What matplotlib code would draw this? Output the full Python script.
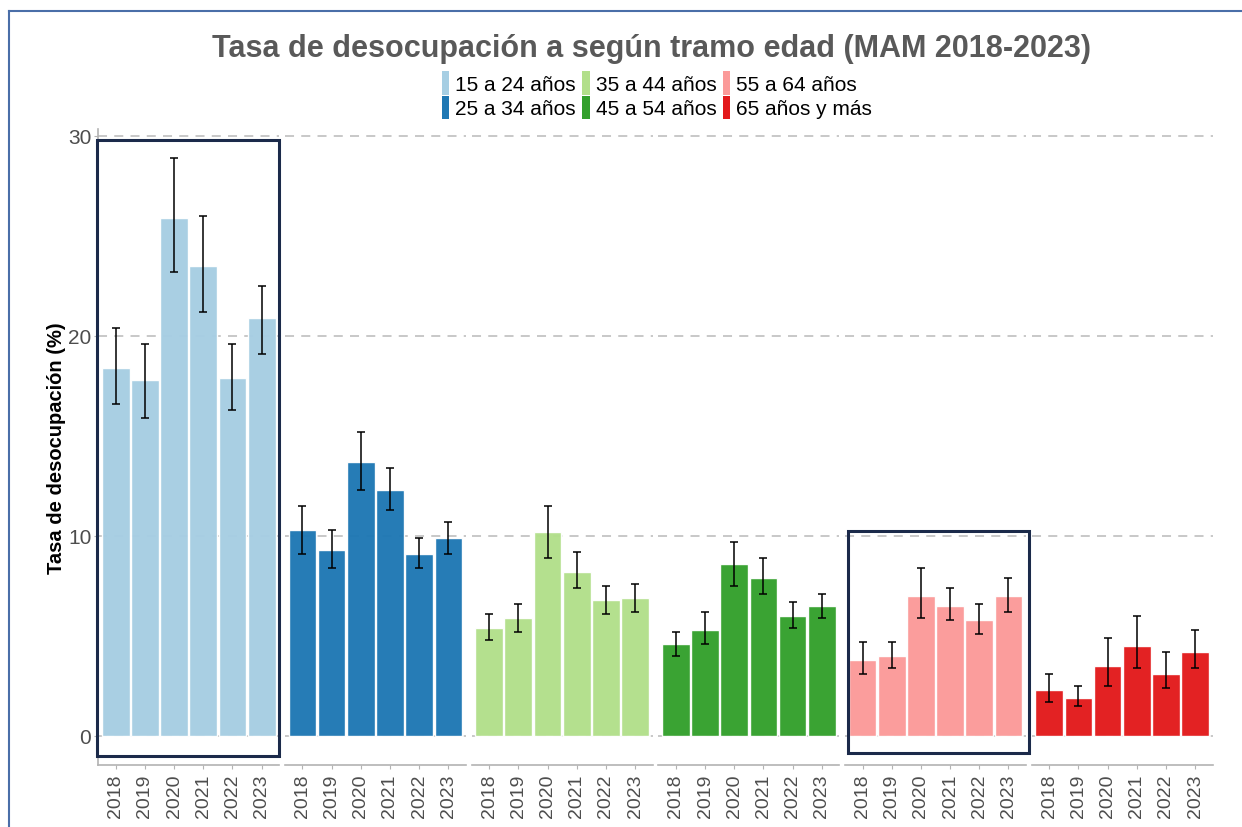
import matplotlib
matplotlib.use('Agg')
import matplotlib.pyplot as plt
from matplotlib.patches import Rectangle, Patch
from matplotlib.lines import Line2D
import numpy as np

plt.rcParams['font.family'] = ['Liberation Sans', 'DejaVu Sans']

# ==== DATOS ====
anios = ['2018', '2019', '2020', '2021', '2022', '2023']
tramos = ['15 a 24 años', '25 a 34 años', '35 a 44 años',
          '45 a 54 años', '55 a 64 años', '65 años y más']
colores = ['#A6CEE3', '#1F78B4', '#B2DF8A', '#33A02C', '#FB9A99', '#E31A1C']

tasa_15_24 = [18.4, 17.8, 25.9, 23.5, 17.9, 20.9]
inf_15_24 = [16.6, 15.9, 23.2, 21.2, 16.3, 19.1]
sup_15_24 = [20.4, 19.6, 28.9, 26.0, 19.6, 22.5]

tasa_25_34 = [10.3, 9.3, 13.7, 12.3, 9.1, 9.9]
inf_25_34 = [9.1, 8.4, 12.3, 11.3, 8.4, 9.1]
sup_25_34 = [11.5, 10.3, 15.2, 13.4, 9.9, 10.7]

tasa_35_44 = [5.4, 5.9, 10.2, 8.2, 6.8, 6.9]
inf_35_44 = [4.8, 5.2, 8.9, 7.4, 6.1, 6.2]
sup_35_44 = [6.1, 6.6, 11.5, 9.2, 7.5, 7.6]

tasa_45_54 = [4.6, 5.3, 8.6, 7.9, 6.0, 6.5]
inf_45_54 = [4.0, 4.6, 7.5, 7.1, 5.4, 5.9]
sup_45_54 = [5.2, 6.2, 9.7, 8.9, 6.7, 7.1]

tasa_55_64 = [3.8, 4.0, 7.0, 6.5, 5.8, 7.0]
inf_55_64 = [3.1, 3.4, 5.9, 5.8, 5.1, 6.2]
sup_55_64 = [4.7, 4.7, 8.4, 7.4, 6.6, 7.9]

tasa_65 = [2.3, 1.9, 3.5, 4.5, 3.1, 4.2]
inf_65 = [1.7, 1.5, 2.5, 3.4, 2.4, 3.4]
sup_65 = [3.1, 2.5, 4.9, 6.0, 4.2, 5.3]

tasas = [tasa_15_24, tasa_25_34, tasa_35_44, tasa_45_54, tasa_55_64, tasa_65]
inferiores = [inf_15_24, inf_25_34, inf_35_44, inf_45_54, inf_55_64, inf_65]
superiores = [sup_15_24, sup_25_34, sup_35_44, sup_45_54, sup_55_64, sup_65]

GRIS_TEXTO = '#4d4d4d'
GRIS_EJE = '#b3b3b3'
AZUL_MARCO = '#1b2a4a'

# ==== FIGURA ====
fig = plt.figure(figsize=(12.42, 8.28), dpi=100)

izq = 98.2 / 1242
abajo = 62 / 828
alto = 636 / 828
ancho = 181 / 1242
hueco = 5.7 / 1242

ejes = []
x = np.arange(len(anios))
for i in range(6):
    ax = fig.add_axes([izq + i * (ancho + hueco), abajo, ancho, alto])
    ejes.append(ax)

    # grilla punteada
    for yv in [0, 10, 20, 30]:
        ax.axhline(yv, color='#c4c4c4', lw=1.3, dashes=(5, 4), zorder=0)

    tasa = np.array(tasas[i])
    err_inf = tasa - np.array(inferiores[i])
    err_sup = np.array(superiores[i]) - tasa
    ax.bar(x, tasa, width=0.95, color=colores[i], edgecolor='white',
           linewidth=1.0, alpha=0.97, zorder=2)
    ax.errorbar(x, tasa, yerr=[err_inf, err_sup], fmt='none', ecolor='black',
                elinewidth=1.1, capsize=3, capthick=1.1, zorder=3)

    ax.set_xlim(-0.6, 5.6)
    ax.set_ylim(-1.45, 30.35)
    ax.set_xticks(x)
    ax.set_xticklabels(anios, rotation=90, fontsize=14, color=GRIS_TEXTO)
    ax.tick_params(axis='x', length=3, color=GRIS_EJE, pad=3)

    for lado in ['top', 'right', 'left']:
        ax.spines[lado].set_visible(False)
    ax.spines['bottom'].set_color(GRIS_EJE)
    ax.spines['bottom'].set_linewidth(1.2)

    if i == 0:
        ax.spines['left'].set_visible(True)
        ax.spines['left'].set_color(GRIS_EJE)
        ax.spines['left'].set_linewidth(1.2)
        ax.set_yticks([0, 10, 20, 30])
        ax.set_yticklabels(['0', '10', '20', '30'], fontsize=15, color=GRIS_TEXTO)
        ax.tick_params(axis='y', length=3, color=GRIS_EJE, pad=2)
        ax.set_ylabel('Tasa de desocupación (%)', fontsize=14.5, fontweight='bold',
                      color='black', labelpad=1)
    else:
        ax.set_yticks([])

# recuadros destacados
ejes[0].add_patch(Rectangle((-0.64, -1.0), 6.23, 30.8, fill=False,
                            edgecolor=AZUL_MARCO, lw=2.2, clip_on=False, zorder=5))
ejes[4].add_patch(Rectangle((-0.50, -0.85), 6.20, 11.1, fill=False,
                            edgecolor=AZUL_MARCO, lw=2.2, clip_on=False, zorder=5))

# titulo
fig.text(0.5246, 0.941, 'Tasa de desocupación a según tramo edad (MAM 2018-2023)',
         ha='center', va='center', fontsize=22, fontweight='bold', color='#595959')

# leyenda
handles = [Patch(facecolor=c, edgecolor='none') for c in colores]
fig.legend(handles, tramos, loc='center', bbox_to_anchor=(0.529, 0.884), ncol=3,
           frameon=False, fontsize=15, handlelength=0.35, handleheight=1.35,
           handletextpad=0.3, columnspacing=0.3, labelspacing=0.05,
           borderpad=0)

# borde de la diapositiva
fig.add_artist(Line2D([9 / 1242, 1], [1 - 12 / 828, 1 - 12 / 828],
                      color='#4a6ea8', lw=1.5, transform=fig.transFigure))
fig.add_artist(Line2D([9 / 1242, 9 / 1242], [0, 1 - 12 / 828],
                      color='#4a6ea8', lw=1.5, transform=fig.transFigure))

fig.savefig('out.png', dpi=100)
